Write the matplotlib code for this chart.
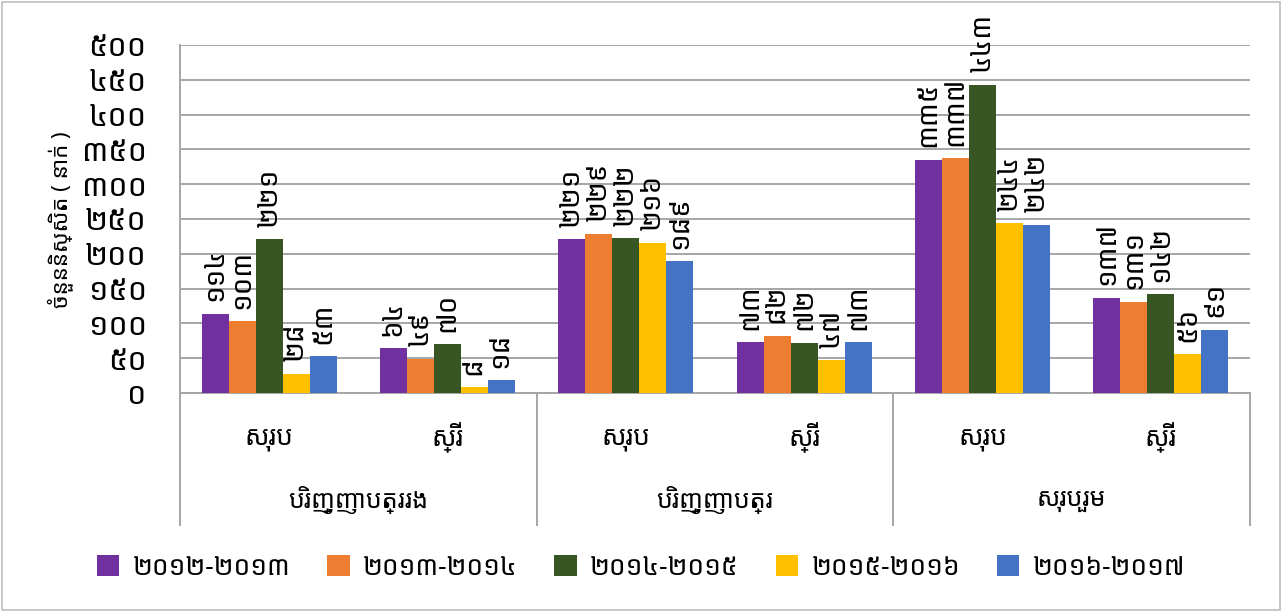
import matplotlib
matplotlib.use('Agg')
import matplotlib.pyplot as plt
import matplotlib.transforms as mtrans
from matplotlib.patches import Rectangle
import numpy as np

plt.rcParams['font.family'] = ['Noto Sans Khmer', 'DejaVu Sans']

groups = ['បរិញ្ញាបត្ររង', 'បរិញ្ញាបត្រ', 'សរុបរួម']
subcats = ['សរុប', 'ស្រី']
series = ['២០១២-២០១៣', '២០១៣-២០១៤', '២០១៤-២០១៥', '២០១៥-២០១៦', '២០១៦-២០១៧']
colors = ['#7030A0', '#ED7D31', '#375623', '#FFC000', '#4472C4']

# values per series, across the 6 categories (group x subcat)
s2012 = [114, 64, 221, 73, 335, 137]
s2013 = [103, 49, 229, 82, 337, 131]
s2014 = [221, 70, 222, 72, 443, 142]
s2015 = [28, 8, 216, 47, 244, 56]
s2016 = [53, 18, 189, 73, 242, 91]
values = [s2012, s2013, s2014, s2015, s2016]

yticks = [0, 50, 100, 150, 200, 250, 300, 350, 400, 450, 500]
ylabel = 'ចំនួននិស្សិត ( នាក់ )'

KH = str.maketrans('0123456789', '០១២៣៤៥៦៧៨៩')
def kh(n):
    return str(n).translate(KH)

W, H = 1282, 611
fig = plt.figure(figsize=(W / 100, H / 100), dpi=100)
L, R, T, B = 180, 1250, 45, 393
ax = fig.add_axes([L / W, (H - B) / H, (R - L) / W, (B - T) / H])

ncat = len(groups) * len(subcats)
bw = 27 / ((R - L) / ncat)
for j, (vals, col) in enumerate(zip(values, colors)):
    xs = np.arange(ncat) + 0.5 + (j - 2) * bw
    ax.bar(xs, vals, width=bw, color=col, label=series[j], zorder=3, linewidth=0)
    for x, v in zip(xs, vals):
        ax.annotate(kh(v), (x, v), xytext=(0, 9), textcoords='offset points',
                    rotation=90, ha='center', va='bottom', fontsize=20, zorder=4)

ax.set_xlim(0, ncat)
ax.set_ylim(0, 500)
ax.set_yticks(yticks)
ax.set_yticklabels([kh(t) for t in yticks], fontsize=22)
ax.tick_params(axis='y', length=0, pad=24)
ax.set_xticks([])
ax.grid(axis='y', color='#A6A6A6', linewidth=1.4, zorder=0)
for s in ['top', 'right']:
    ax.spines[s].set_visible(False)
ax.spines['left'].set_color('#A6A6A6')
ax.spines['left'].set_linewidth(1.4)
ax.spines['bottom'].set_color('#A6A6A6')
ax.spines['bottom'].set_linewidth(1.4)

trans = mtrans.blended_transform_factory(ax.transData, ax.transAxes)
ybot = (B - 525) / (B - T)
for gx in range(0, ncat + 1, 2):
    ax.plot([gx, gx], [0, ybot], transform=trans, color='#A6A6A6', lw=1.4, clip_on=False)

ysub = (B - 438) / (B - T)
ygrp = (B - 500) / (B - T)
for i in range(ncat):
    ax.text(i + 0.5, ysub, subcats[i % 2], transform=trans, ha='center', va='center', fontsize=19)
for g in range(len(groups)):
    ax.text(2 * g + 1, ygrp, groups[g], transform=trans, ha='center', va='center', fontsize=18)

fig.text(60 / W, 1 - 220 / H, ylabel, rotation=90, ha='center', va='center', fontsize=16, fontweight='bold')

fig.legend(loc='center', bbox_to_anchor=(0.5, 1 - 568 / H), ncol=5, frameon=False,
           fontsize=19, handlelength=0.85, handleheight=0.85, columnspacing=1.4, handletextpad=0.5)

fig.patches.append(Rectangle((2 / W, 1 / H), 1278 / W, 608 / H, transform=fig.transFigure,
                             fill=False, edgecolor='#BFBFBF', lw=1.2))

fig.savefig('out.png', dpi=100)
